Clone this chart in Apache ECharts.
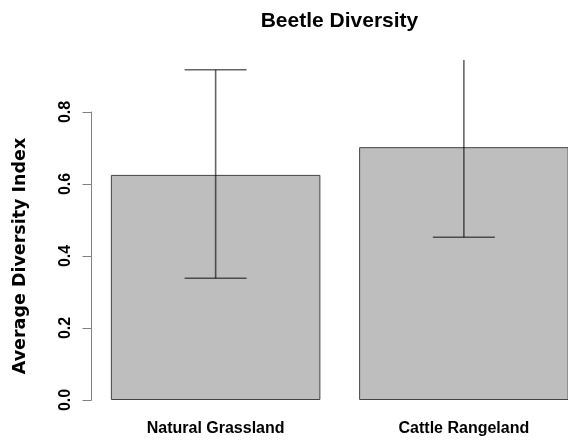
<!DOCTYPE html>
<html>
<head>
<meta charset="utf-8">
<script src="https://cdn.jsdelivr.net/npm/echarts@6/dist/echarts.min.js"></script>
<style>
html,body{margin:0;padding:0;background:#fff;overflow:hidden;width:568px;height:444px;}
#chart{width:590px;height:444px;}
</style>
</head>
<body>
<div id="chart"></div>
<script>
const categories = ['Natural Grassland', 'Cattle Rangeland'];
const meanValues = [0.625, 0.702];
const lowerValues = [0.338, 0.452];
const upperValues = [0.917, 0.952];
const yTicks = [0, 0.2, 0.4, 0.6, 0.8];

const FONT = '"Liberation Sans", Arial, Helvetica, sans-serif';
const chart = echarts.init(document.getElementById('chart'), null, {renderer: 'canvas'});

const errData = categories.map((c, i) => [i, lowerValues[i], upperValues[i]]);

chart.setOption({
  animation: false,
  backgroundColor: '#ffffff',
  title: {
    text: 'Beetle Diversity',
    left: 334.5,
    textAlign: 'center',
    top: 6,
    textStyle: {fontFamily: FONT, fontWeight: 'bold', fontSize: 21, color: '#000'}
  },
  grid: [
    {left: 91.5, width: 496.5, top: 60, height: 340, containLabel: false},
    {left: 91.5, width: 496.5, top: 112, height: 288, containLabel: false}
  ],
  xAxis: [
    {
      type: 'category', gridIndex: 0, data: categories,
      axisLine: {show: false}, axisTick: {show: false},
      axisLabel: {fontFamily: FONT, fontWeight: 'bold', fontSize: 16, color: '#000', margin: 21}
    },
    {type: 'category', gridIndex: 1, data: categories, show: false}
  ],
  yAxis: [
    {type: 'value', gridIndex: 0, min: 0, max: 0.944, show: false, splitLine: {show: false}},
    {
      type: 'value', gridIndex: 1, min: 0, max: 0.8, interval: 0.2,
      name: 'Average Diversity Index', nameLocation: 'middle', nameRotate: 90, nameGap: 62,
      nameTextStyle: {fontFamily: '"DejaVu Sans", sans-serif', fontWeight: 'bold', fontSize: 17.5, color: '#000'},
      axisLine: {show: true, lineStyle: {color: '#808080', width: 1}},
      axisTick: {show: true, length: 9, lineStyle: {color: '#808080', width: 1}},
      splitLine: {show: false},
      axisLabel: {
        rotate: 90, margin: 18, fontFamily: FONT, fontWeight: 'bold', fontSize: 16, color: '#000',
        formatter: v => v.toFixed(1)
      }
    }
  ],
  series: [
    {
      type: 'bar', xAxisIndex: 0, yAxisIndex: 0, data: meanValues,
      barWidth: '84.4%',
      itemStyle: {color: '#bebebe', borderColor: '#444', borderWidth: 1}
    },
    {
      type: 'custom', xAxisIndex: 0, yAxisIndex: 0, data: errData, clip: true, z: 5,
      renderItem: function (params, api) {
        const x = api.value(0);
        const lo = api.coord([x, api.value(1)]);
        const hi = api.coord([x, api.value(2)]);
        const half = 31;
        const style = {stroke: 'rgba(0,0,0,0.6)', lineWidth: 1.6};
        return {
          type: 'group',
          children: [
            {type: 'line', shape: {x1: lo[0], y1: lo[1], x2: hi[0], y2: hi[1]}, style: style},
            {type: 'line', shape: {x1: lo[0] - half, y1: lo[1], x2: lo[0] + half, y2: lo[1]}, style: style},
            {type: 'line', shape: {x1: hi[0] - half, y1: hi[1], x2: hi[0] + half, y2: hi[1]}, style: style}
          ]
        };
      }
    }
  ]
});
</script>
</body>
</html>
